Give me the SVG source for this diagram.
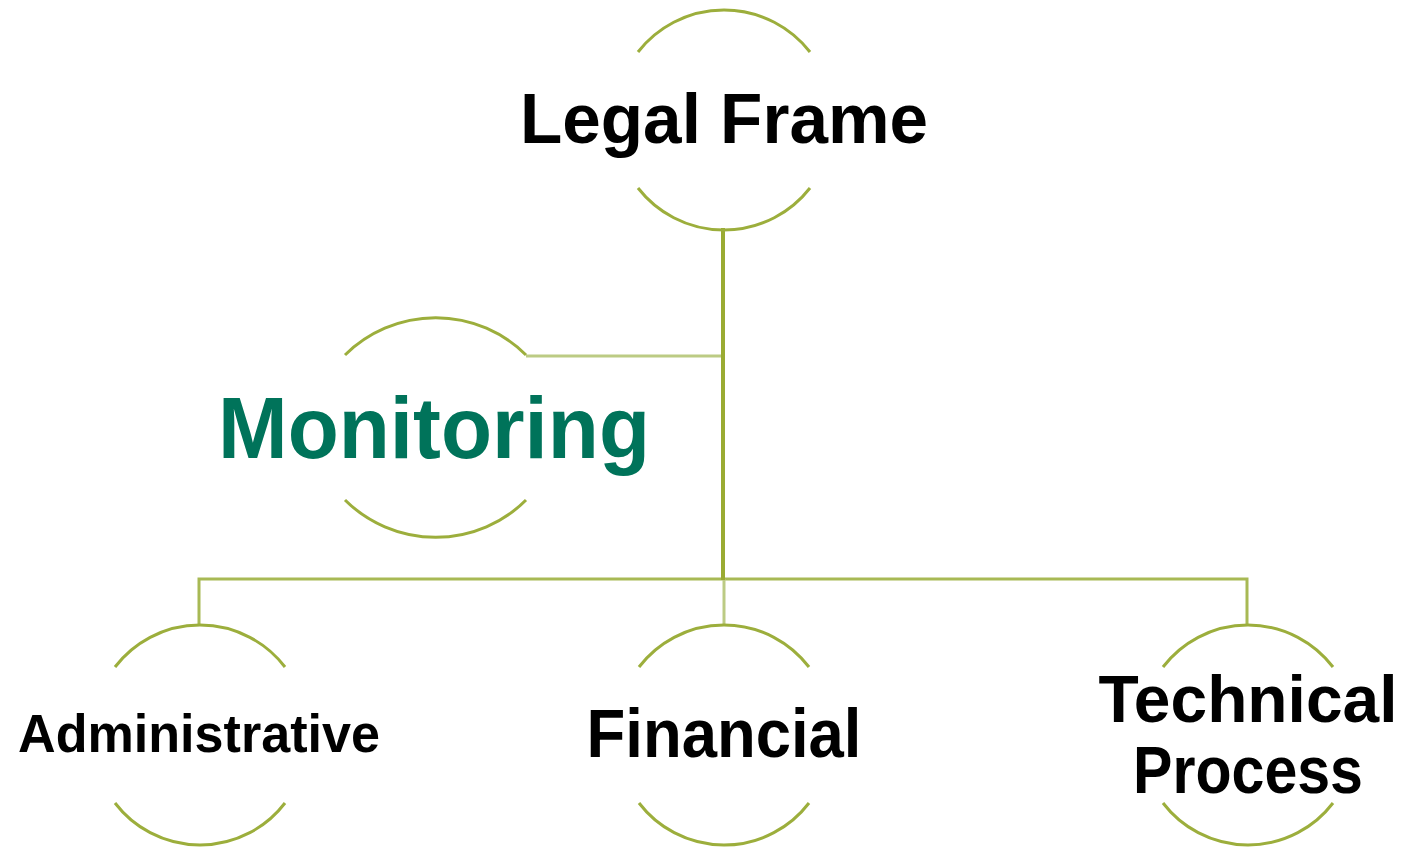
<svg xmlns="http://www.w3.org/2000/svg" width="1404" height="847" viewBox="0 0 1404 847">
<style>
.arc{fill:none;stroke:#9cae3c;stroke-width:3}
.lbl{font-family:"Liberation Sans","DejaVu Sans",sans-serif;font-weight:bold;fill:#000;text-anchor:middle}
.trunk{stroke:#9aab32;stroke-width:4;fill:none}
.con{stroke:#a8b954;stroke-width:3;fill:none}
.conl{stroke:#bccb84;stroke-width:3;fill:none}
</style>
<rect width="1404" height="847" fill="#fff"/>
<g id="connectors">
<line class="conl" x1="526" y1="356" x2="723" y2="356"/>
<polyline class="con" points="199,625 199,579 1247,579 1247,625"/>
<line class="conl" x1="724" y1="579" x2="724" y2="625"/>
<line class="trunk" x1="723" y1="228" x2="723" y2="580"/>
</g>
<g id="legal-frame">
<path class="arc" d="M638,52 A109,109 0 0 1 810,52"/>
<path class="arc" d="M638,188 A109,109 0 0 0 810,188"/>
<text class="lbl" x="724" y="143" font-size="70" textLength="408" lengthAdjust="spacingAndGlyphs">Legal Frame</text>
</g>
<g id="monitoring">
<path class="arc" d="M345,355 A128,128 0 0 1 526,355"/>
<path class="arc" d="M345,500 A128,128 0 0 0 526,500"/>
<text class="lbl" x="434" y="458" font-size="88" fill="#00735a" style="fill:#00735a" textLength="432" lengthAdjust="spacingAndGlyphs">Monitoring</text>
</g>
<g id="administrative">
<path class="arc" d="M115,667 A107,107 0 0 1 285,667"/>
<path class="arc" d="M115,803 A107,107 0 0 0 285,803"/>
<text class="lbl" x="199" y="752" font-size="54" textLength="362" lengthAdjust="spacingAndGlyphs">Administrative</text>
</g>
<g id="financial">
<path class="arc" d="M639,667 A107,107 0 0 1 809,667"/>
<path class="arc" d="M639,803 A107,107 0 0 0 809,803"/>
<text class="lbl" x="724" y="757" font-size="68" textLength="275" lengthAdjust="spacingAndGlyphs">Financial</text>
</g>
<g id="technical-process">
<path class="arc" d="M1163,667 A107,107 0 0 1 1333,667"/>
<path class="arc" d="M1163,803 A107,107 0 0 0 1333,803"/>
<text class="lbl" x="1248" y="722" font-size="66" textLength="299" lengthAdjust="spacingAndGlyphs">Technical</text>
<text class="lbl" x="1248" y="793" font-size="66" textLength="230" lengthAdjust="spacingAndGlyphs">Process</text>
</g>
</svg>
